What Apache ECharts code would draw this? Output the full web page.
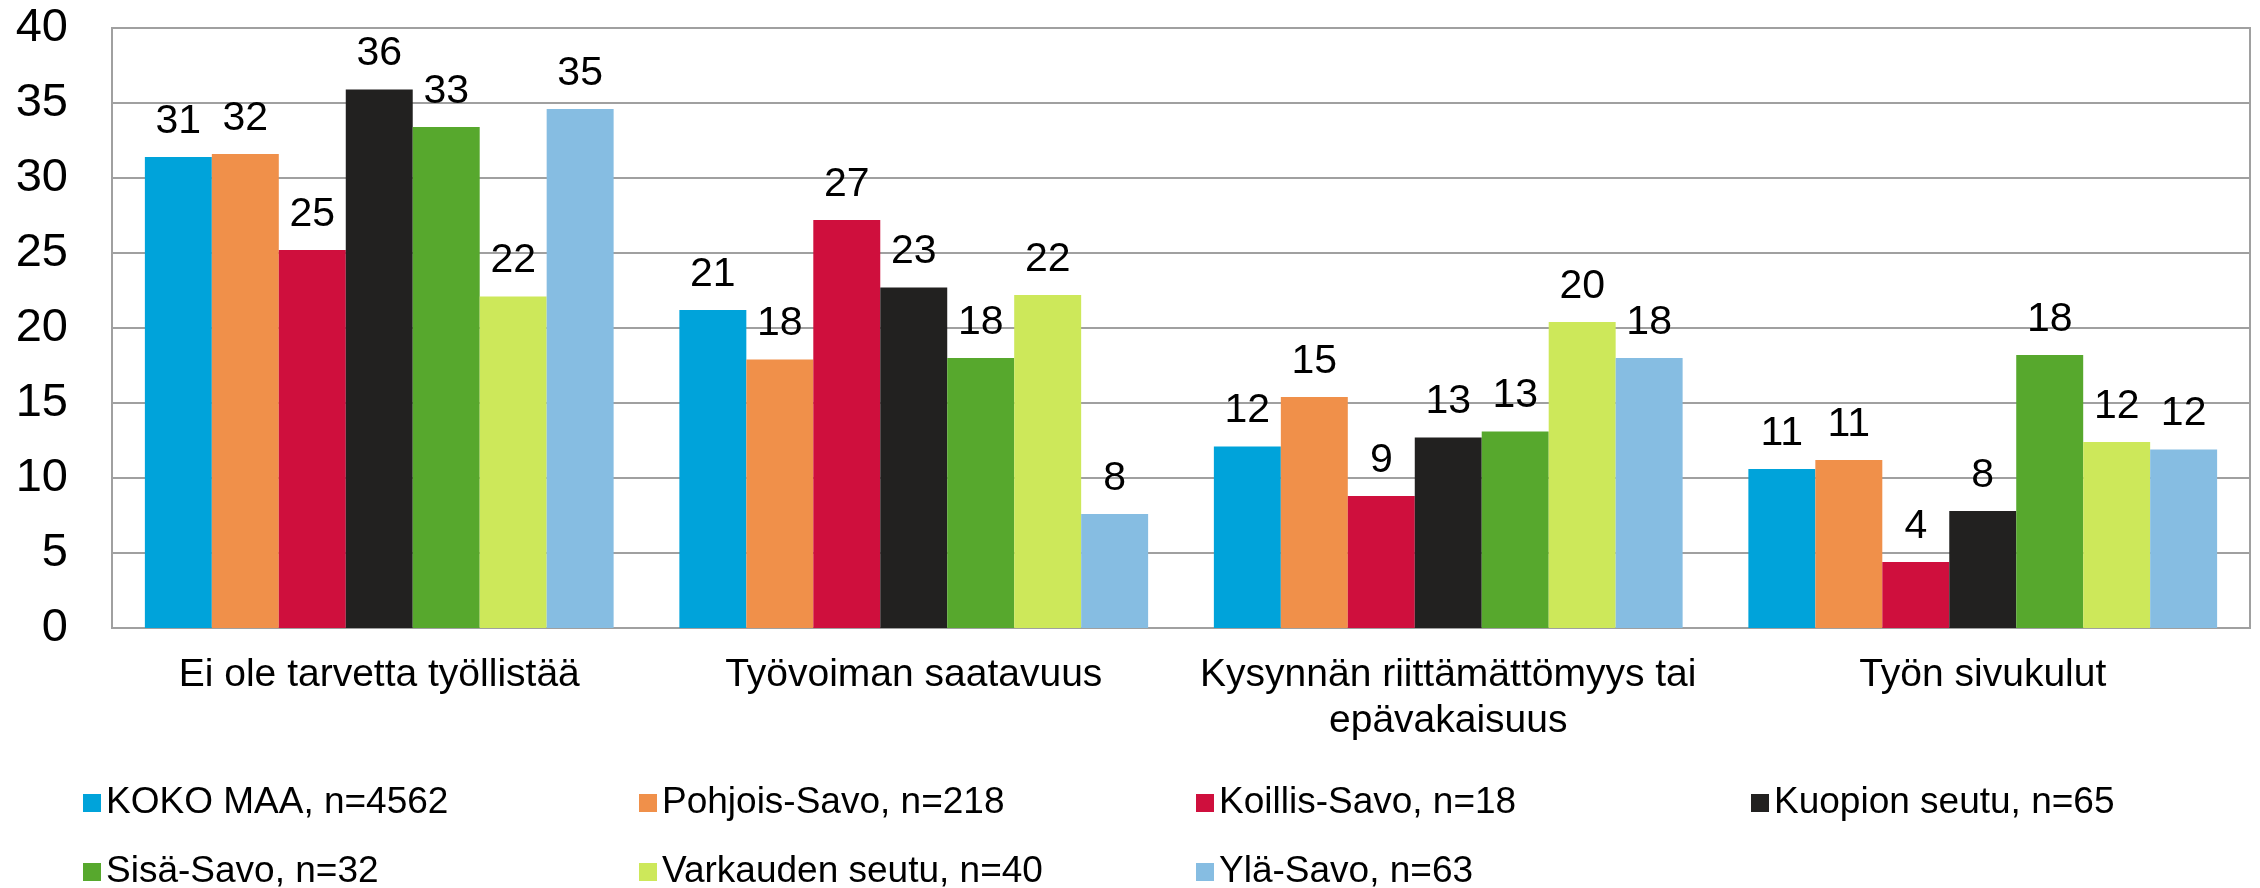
<!DOCTYPE html>
<html><head><meta charset="utf-8">
<script src="https://cdn.jsdelivr.net/npm/echarts@6/dist/echarts.min.js"></script>
<style>html,body{margin:0;padding:0;background:#fff}#c{width:2260px;height:888px}</style>
</head><body><div id="c"></div>
<script>
const categories = ['Ei ole tarvetta työllistää', 'Työvoiman saatavuus', 'Kysynnän riittämättömyys tai\nepävakaisuus', 'Työn sivukulut'];
const seriesNames = ['KOKO MAA, n=4562', 'Pohjois-Savo, n=218', 'Koillis-Savo, n=18', 'Kuopion seutu, n=65', 'Sisä-Savo, n=32', 'Varkauden seutu, n=40', 'Ylä-Savo, n=63'];
const kokoMaa = [31.4, 21.2, 12.1, 10.6];
const pohjoisSavo = [31.6, 17.9, 15.4, 11.2];
const koillisSavo = [25.2, 27.2, 8.8, 4.4];
const kuopionSeutu = [35.9, 22.7, 12.7, 7.8];
const sisaSavo = [33.4, 18.0, 13.1, 18.2];
const varkaudenSeutu = [22.1, 22.2, 20.4, 12.4];
const ylaSavo = [34.6, 7.6, 18.0, 11.9];
const yTicks = [0, 5, 10, 15, 20, 25, 30, 35, 40];

const seriesData = [kokoMaa, pohjoisSavo, koillisSavo, kuopionSeutu, sisaSavo, varkaudenSeutu, ylaSavo];
const colors = ['#00A3DA', '#F0904A', '#CF0F3D', '#222120', '#57A82D', '#CDE85A', '#86BDE2'];
const FONT = '"Liberation Sans", Arial, sans-serif';

const legendPos = [[83, 783], [639, 783], [1196, 783], [1751, 783], [83, 852], [639, 852], [1196, 852]];

const chart = echarts.init(document.getElementById('c'), null, {renderer: 'canvas'});
chart.setOption({
  animation: false,
  color: colors,
  textStyle: {fontFamily: FONT},
  grid: {left: 112, right: 10, top: 28, bottom: 260, show: true, borderColor: '#A0A0A0', borderWidth: 2},
  legend: seriesNames.map((n, i) => ({
    data: [n], left: legendPos[i][0], top: legendPos[i][1], icon: 'rect',
    itemWidth: 18, itemHeight: 18, itemGap: 0, padding: 0,
    textStyle: {fontFamily: FONT, fontSize: 37, color: '#000', lineHeight: 40}
  })),
  xAxis: {
    type: 'category', data: categories,
    axisLine: {lineStyle: {color: '#A0A0A0', width: 2}},
    axisTick: {show: false},
    axisLabel: {fontFamily: FONT, fontSize: 39, color: '#000', margin: 24, lineHeight: 46, interval: 0}
  },
  yAxis: {
    type: 'value', min: yTicks[0], max: yTicks[yTicks.length - 1], interval: 5,
    axisLine: {show: true, lineStyle: {color: '#A0A0A0', width: 2}},
    axisTick: {show: false},
    splitLine: {lineStyle: {color: '#A0A0A0', width: 2}},
    axisLabel: {fontFamily: FONT, fontSize: 47, color: '#000', margin: 44}
  },
  series: seriesNames.map((n, i) => ({
    name: n, type: 'bar', data: seriesData[i],
    barGap: '0%', barCategoryGap: '12.3%',
    itemStyle: {color: colors[i]},
    label: {show: true, position: 'top', distance: 15, fontFamily: FONT, fontSize: 41, color: '#000',
      formatter: p => Math.round(p.value)}
  }))
});
</script></body></html>
